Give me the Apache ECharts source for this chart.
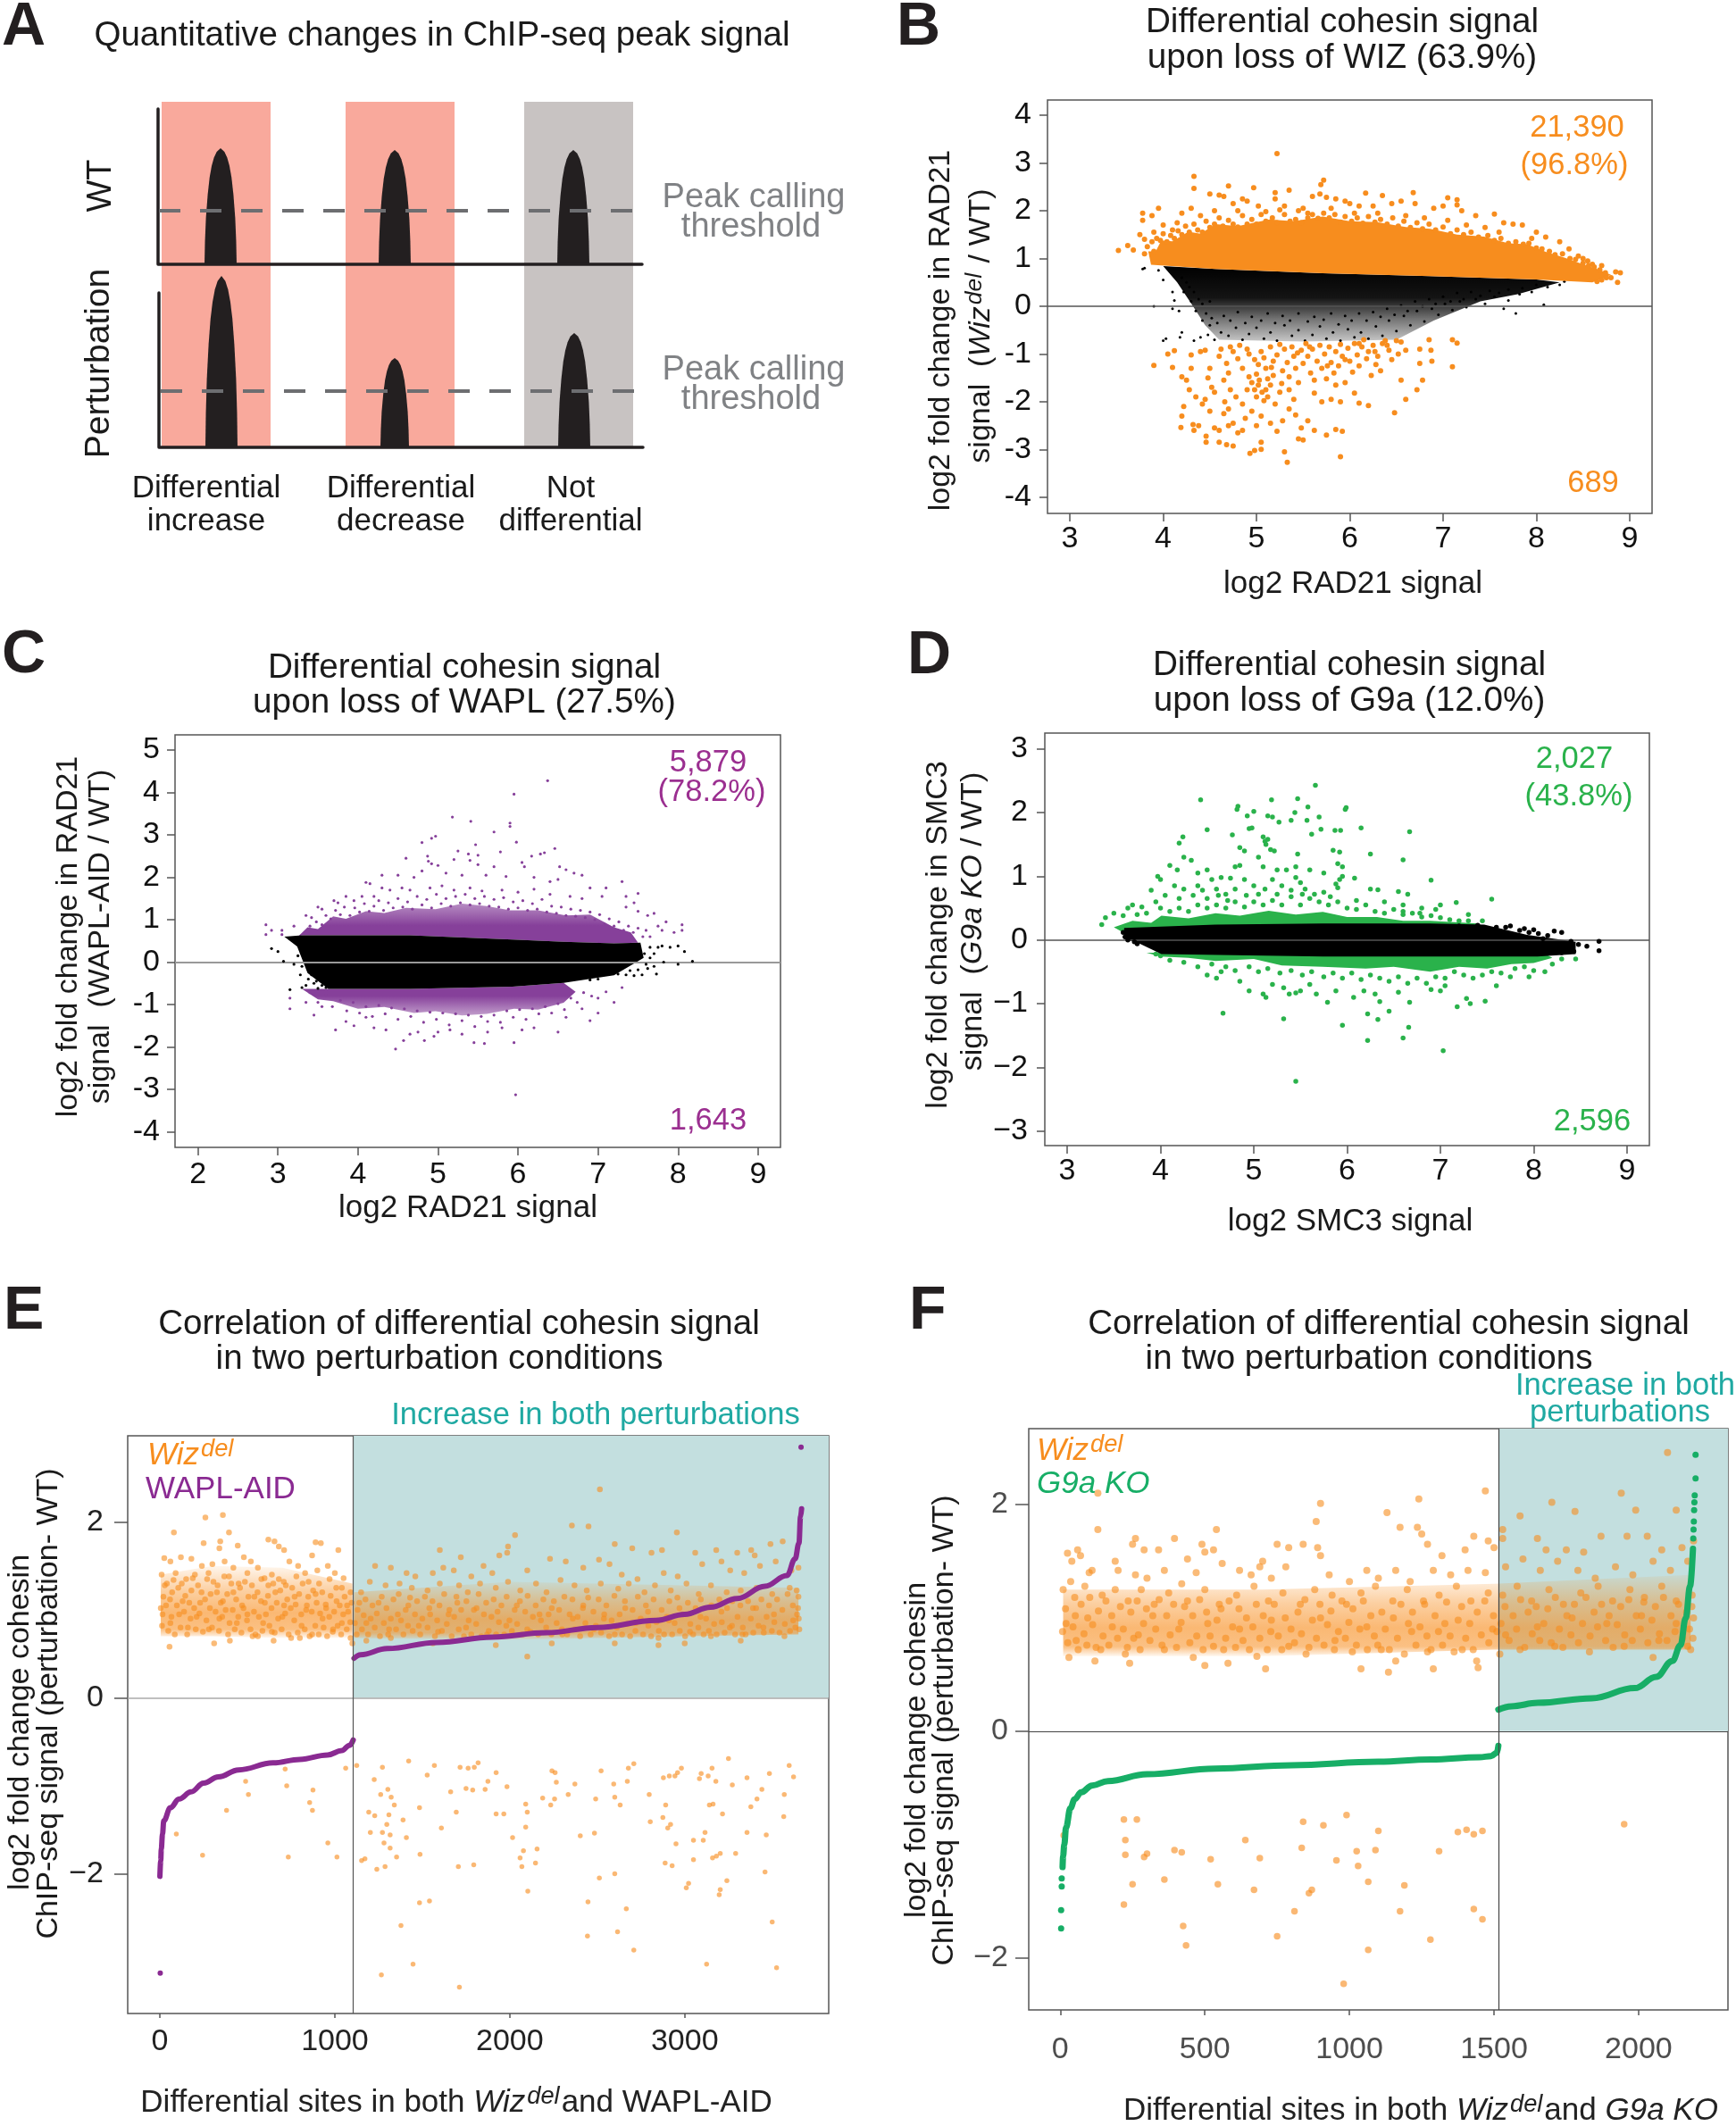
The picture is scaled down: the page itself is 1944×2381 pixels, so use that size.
<!DOCTYPE html>
<html><head><meta charset="utf-8">
<style>html,body{margin:0;padding:0;background:#fff}#c{width:1944px;height:2381px}</style>
<script src="https://cdn.jsdelivr.net/npm/echarts@6/dist/echarts.min.js"></script>
</head><body><div id="c"></div>
<script>
// ---------- Panel A schematic values (schematic units) ----------
const aBands=[[181,303,114,501,'#F9A99C'],[387,509,114,501,'#F9A99C'],[587,709,114,501,'#C8C3C2']];
const aPeaks=[[247,18,296,130],[442,18,296,128],[642,18,296,128],[248,18,501,192],[442,16,501,100],[643,18,501,128]];
const aProfile=[[0,1],[.2,.97],[.4,.91],[.6,.8],[.75,.68],[.85,.55],[.92,.41],[.97,.24],[1,0]];
const aAxes=[[[177,122],[177,296],[719,296]],[[178,328],[178,501],[720,501]]];
const aThresholds=[[[178,236],[711,236]],[[180,438],[713,438]]];
// ---------- Panel B values ----------
const bTicksX=[3,4,5,6,7,8,9], bTicksY=[-4,-3,-2,-1,0,1,2,3,4];
const bOrangeBody=[[3.87,.87],[3.84,1.15],[3.92,1.15],[3.98,1.38],[4.1,1.36],[4.27,1.56],[4.4,1.52],[4.56,1.72],[4.8,1.68],[5.14,1.82],[5.4,1.78],[5.71,1.88],[6.0,1.78],[6.29,1.76],[6.6,1.66],[6.86,1.62],[7.15,1.5],[7.44,1.46],[7.7,1.32],[7.9,1.3],[8.1,1.14],[8.3,1.02],[8.5,.88],[8.65,.78],[8.8,.66],[8.6,.5],[8.0,.56],[6.86,.63],[5.71,.69],[4.56,.78]];
const bBlackBody=[[4.0,.84],[4.56,.78],[5.71,.69],[6.86,.63],[8.0,.56],[8.25,.5],[7.8,.25],[7.4,.1],[6.9,-.3],[6.5,-.7],[5.5,-.74],[4.6,-.7],[4.45,-.4],[4.32,0],[4.15,.5]];
const bOrangeTop=[[5.22,3.2],[4.33,2.72],[4.33,2.47],[5.72,2.64],[5.69,2.55],[4.7,2.52],[4.97,2.48],[5.2,2.38],[5.35,2.43],[5.6,2.3],[5.68,2.35],[5.75,2.28],[6.17,2.37],[6.35,2.32],[6.68,2.38],[7.05,2.27],[7.15,2.23],[7.15,2.12],[4.5,2.35],[4.6,2.33],[4.65,2.3],[4.75,2.15],[4.85,2.25],[4.9,2.2],[5.02,2.1],[5.2,2.25],[5.3,2.1],[5.45,2.0],[5.5,2.05],[5.85,2.25],[5.95,2.2],[6.0,2.15],[6.1,2.1],[6.25,2.1],[6.45,2.15],[6.55,2.2],[6.7,2.15],[6.9,2.05],[7.0,2.1],[7.2,2.0],[7.35,1.9],[7.55,1.93],[7.65,1.75],[7.75,1.72],[7.85,1.7],[8.0,1.55],[8.1,1.45],[8.25,1.35],[8.45,1.05],[8.55,.95],[8.7,.85],[8.85,.72],[8.9,.7],[8.87,.5],[8.75,.6],[3.52,1.17],[3.62,1.27],[3.68,1.18],[3.75,1.5],[3.78,1.8],[3.78,1.95],[3.8,1.4],[3.88,1.9],[3.95,2.05],[4.0,1.7],[4.2,1.95],[4.3,2.05],[4.4,1.9],[4.1,1.6],[3.9,1.55],[4.15,1.75],[4.55,2.0],[4.8,2.0],[5.1,1.98],[5.25,2.02],[5.55,1.95],[5.8,2.05],[6.05,1.95],[6.3,1.95],[6.6,1.9],[6.8,1.85],[7.05,1.8],[7.25,1.7],[7.45,1.65],[7.6,1.55],[7.95,1.42],[8.35,1.2],[8.5,1.0],[8.6,.88],
[3.8,1.1],[3.83,1.25],[3.88,1.35],[3.9,1.15],[3.93,1.42],[3.97,1.38],[4.0,1.52],[4.04,1.35],[4.08,1.48],[4.12,1.42],[4.16,1.58],[4.2,1.5],[4.24,1.68],[4.28,1.55],[4.33,1.72],[4.37,1.6],[4.42,1.55],[4.46,1.78],[4.5,1.65],[4.55,1.72],[4.6,1.85],[4.64,1.68],[4.7,1.8],[4.75,1.72],[4.8,1.66],[4.85,1.9],[4.9,1.72],[4.95,1.82],[5.0,1.72],[5.05,1.92],[5.1,1.78],[5.17,1.85],[5.22,1.75],[5.3,1.92],[5.36,1.78],[5.42,1.82],[5.48,1.75],[5.55,1.85],[5.6,1.92],[5.66,1.84],[5.72,1.95],[5.78,1.85],[5.84,1.92],[5.9,1.76],[5.95,1.88],[6.02,1.78],[6.08,1.85],[6.14,1.74],[6.2,1.88],[6.27,1.76],[6.33,1.82],[6.4,1.72],[6.46,1.85],[6.52,1.68],[6.58,1.78],[6.65,1.65],[6.72,1.75],[6.78,1.62],[6.85,1.72],[6.92,1.6],[7.0,1.66],[7.08,1.52],[7.15,1.6],[7.22,1.5],[7.3,1.55],[7.38,1.45],[7.48,1.48],[7.55,1.38],[7.62,1.42],[7.7,1.32],[7.78,1.35],[7.86,1.3],[7.92,1.32],[8.0,1.22],[8.06,1.2],[8.14,1.15],[8.2,1.08],[8.28,1.1],[8.36,1.0],[8.42,.98],[8.5,.9],[8.56,.85],[8.62,.82],[8.68,.76],[8.74,.7],[8.8,.6],[8.7,.55],[8.65,.52]];
const bOrangeDown=[[3.9,-1.24],[4.05,-1.0],[4.12,-.93],[4.1,-1.28],[4.2,-1.48],[4.25,-1.55],[4.28,-1.75],[4.22,-2.1],[4.2,-2.3],[4.19,-2.54],[4.32,-2.48],[4.38,-2.5],[4.33,-2.6],[4.46,-2.72],[4.46,-2.85],[4.55,-2.55],[4.6,-2.85],[4.68,-2.9],[4.75,-2.93],[4.8,-2.65],[4.93,-3.08],[4.98,-3.02],[5.05,-3.0],[5.05,-2.85],[5.0,-2.5],[4.88,-2.35],[4.75,-2.45],[4.7,-2.5],[4.65,-2.25],[4.5,-2.2],[4.42,-2.05],[4.35,-1.9],[4.3,-1.3],[4.3,-1.02],[4.4,-.95],[4.45,-.92],[4.5,-1.3],[4.48,-1.5],[4.52,-1.7],[4.55,-1.8],[4.45,-1.95],[4.6,-1.05],[4.62,-.9],[4.68,-1.2],[4.7,-1.4],[4.65,-1.55],[4.72,-1.75],[4.78,-1.9],[4.66,-2.0],[4.85,-2.05],[4.9,-1.75],[4.95,-1.6],[5.0,-1.42],[5.03,-1.55],[5.02,-1.65],[5.06,-1.8],[5.0,-1.9],[5.1,-1.75],[5.12,-1.9],[5.15,-1.65],[5.18,-1.45],[5.1,-1.3],[4.85,-1.3],[4.8,-1.1],[4.75,-.95],[4.82,-.82],[4.9,-.9],[4.98,-1.12],[5.05,-.95],[5.15,-.85],[5.18,-1.15],[5.22,-1.02],[5.28,-1.35],[5.3,-.9],[5.33,-1.18],[5.38,-.85],[5.4,-1.05],[5.42,-1.3],[5.45,-1.6],[5.48,-.92],[5.5,-1.2],[5.53,-.78],[5.55,-1.05],[5.58,-1.4],[5.6,-.9],[5.62,-1.55],[5.65,-1.15],[5.68,-.82],[5.7,-1.3],[5.73,-1.0],[5.75,-1.52],[5.78,-.85],[5.8,-1.18],[5.83,-1.4],[5.85,-.95],[5.88,-1.25],[5.9,-.8],[5.92,-1.05],[5.95,-1.6],[5.98,-.88],[6.0,-1.15],[6.03,-1.38],[6.05,-.78],[6.08,-1.02],[6.1,-1.25],[6.13,-.85],[6.15,-.7],[6.18,-1.1],[6.2,-.95],[6.23,-1.45],[6.25,-.82],[6.28,-1.22],[6.3,-1.05],[6.33,-1.35],[6.35,-.78],[6.38,-.72],[6.42,-.92],[6.45,-1.12],[6.5,-.72],[6.52,-1.0],[6.55,-.75],[6.55,-1.55],[6.6,-.92],[6.6,-1.95],[6.72,-1.75],[6.75,-.9],[6.75,-1.2],[6.78,-1.55],[6.85,-.7],[6.87,-.92],[6.88,-1.15],[7.1,-.7],[7.15,-.77],[7.1,-1.27],[6.48,-2.23],[6.2,-2.08],[6.05,-1.82],[6.1,-2.03],[5.9,-2.0],[5.85,-1.65],[5.8,-1.95],[5.7,-2.0],[5.62,-1.82],[5.55,-2.4],[5.48,-2.55],[5.42,-2.28],[5.35,-2.15],[5.28,-2.4],[5.22,-2.62],[5.15,-2.45],[5.33,-3.27],[5.3,-3.05],[5.9,-3.15],[5.92,-2.62],[5.85,-2.58],[5.75,-2.7],[5.62,-2.6],[5.5,-2.8],[5.45,-2.78],[5.2,-2.05],[5.25,-1.8],[5.35,-1.75],[5.4,-1.95],[5.05,-2.3],[4.95,-2.2],[4.85,-2.6],[4.6,-2.6],[4.7,-2.15],
[4.72,-.85],[4.92,-1.0],[5.02,-1.22],[5.08,-1.08],[5.25,-.8],[5.44,-.98],[5.57,-.85],[5.76,-1.25],[5.95,-1.12],[6.1,-.78],[6.27,-.95],[6.4,-.82],[5.12,-1.52],[5.27,-1.62],[4.98,-1.75],[5.08,-1.98],[4.92,-1.48],[5.16,-1.28],[5.35,-1.48]];
const bBlackSparse=[[3.8,.8],[3.78,.78],[3.95,.75],[4.0,.55],[4.1,.3],[4.12,.12],[4.1,-.05],[4.17,-.1],[3.9,0],[4.03,-.68],[4.0,-.72],[4.18,-.65],[4.2,-.55],[4.33,-.72],[4.4,-.65],[4.48,-.6],[4.5,-.4],[4.42,-.3],[4.35,-.1],[4.3,.1],[4.55,-.7],[4.62,-.55],[4.7,-.62],[4.78,-.45],[4.85,-.7],[4.92,-.58],[5.0,-.45],[5.08,-.68],[5.15,-.55],[5.22,-.72],[5.3,-.4],[5.38,-.62],[5.45,-.5],[5.52,-.72],[5.6,-.6],[5.68,-.42],[5.75,-.68],[5.82,-.55],[5.9,-.72],[5.98,-.48],[6.05,-.65],[6.12,-.55],[6.2,-.68],[6.28,-.42],[6.35,-.62],[6.42,-.3],[6.5,-.52],[6.58,-.2],[6.65,-.4],[6.72,-.1],[6.8,-.32],[6.88,-.05],[6.95,-.18],[7.02,.05],[7.1,-.08],[7.18,.1],[7.25,-.02],[7.35,.15],[7.45,.05],[7.55,.2],[7.65,-.05],[7.7,.12],[7.78,-.15],[7.82,.25],[7.95,.3],[8.08,.03],[8.12,.4],[8.25,.45],[8.3,.52],
[4.25,.5],[4.22,.3],[4.28,.4],[4.2,.6],[4.33,.3],[4.38,.15],[4.42,.05],[4.46,-.15],[4.5,.1],[4.52,-.25],[4.58,-.35],[4.65,-.2],[4.72,-.3],[4.8,-.12],[4.88,-.35],[4.95,-.22],[5.05,-.3],[5.12,-.15],[5.2,-.35],[5.28,-.2],[5.36,-.3],[5.45,-.15],[5.55,-.32],[5.62,-.22],[5.72,-.28],[5.8,-.15],[5.88,-.38],[5.95,-.2],[6.02,-.3],[6.1,-.15],[6.18,-.3],[6.25,-.12],[6.33,-.22],[6.4,-.05],[6.48,-.18],[6.55,.02],[6.62,-.1],[6.7,.1],[6.78,0],[6.85,.15],[6.92,.05],[7.0,.2],[7.08,.1],[7.15,.28],[7.22,.15],[7.3,.3],[7.4,.22],[7.5,.32],[7.6,.28],[7.7,.35],[7.85,.38],[8.0,.45]];
// ---------- Panel C values ----------
const cTicksX=[2,3,4,5,6,7,8,9], cTicksY=[-4,-3,-2,-1,0,1,2,3,4,5];
const cPurpleUp=[[3.25,.6],[3.37,.82],[3.5,.78],[3.69,1.08],[3.85,1.02],[4.1,1.2],[4.33,1.16],[4.6,1.28],[4.97,1.25],[5.3,1.38],[5.61,1.32],[5.9,1.22],[6.25,1.22],[6.6,1.1],[6.9,1.12],[7.2,.82],[7.41,.7],[7.5,.46],[7.2,.44],[6.57,.48],[5.93,.53],[4.65,.63],[3.3,.63]];
const cPurpleDown=[[3.3,-.63],[3.5,-.88],[3.69,-.92],[4.0,-1.1],[4.33,-1.06],[4.7,-1.2],[4.97,-1.16],[5.3,-1.26],[5.61,-1.22],[5.95,-1.1],[6.25,-1.12],[6.57,-.96],[6.72,-.7],[6.57,-.49],[5.93,-.58],[4.65,-.63]];
const cBlackBody=[[3.08,.6],[3.3,.63],[4.65,.63],[5.93,.53],[6.57,.48],[7.2,.44],[7.53,.46],[7.57,.1],[7.2,-.31],[6.57,-.49],[5.93,-.58],[4.65,-.63],[3.63,-.63],[3.37,-.26],[3.24,.37]];
const cPurple=[[6.37,4.28],[5.95,3.96],[5.18,3.42],[5.41,3.32],[5.9,3.28],[5.9,3.2],[5.7,3.07],[5.98,2.83],[4.8,2.82],[4.97,2.97],[4.92,2.92],[5.47,2.77],[6.46,2.68],[5.78,2.6],[6.33,2.58],[6.28,2.55],[6.17,2.5],[5.25,2.62],[5.38,2.55],[5.5,2.52],[4.6,2.45],[4.87,2.5],[4.88,2.38],[4.92,2.32],[5.0,2.28],[5.2,2.42],[5.4,2.4],[5.5,2.3],[5.7,2.25],[6.05,2.35],[6.08,2.25],[6.52,2.25],[6.6,2.18],[6.7,2.1],[6.8,2.05],[4.3,2.05],[4.15,1.85],[4.1,1.88],[4.05,1.55],[4.5,2.05],[4.7,2.0],[4.8,2.15],[5.1,2.1],[5.3,2.05],[5.6,2.05],[5.85,2.02],[6.2,2.0],[6.4,1.9],[6.5,1.95],[6.9,1.75],[7.1,1.75],[7.3,1.9],[7.05,1.55],[7.35,1.55],[7.5,1.62],[7.45,1.4],[7.35,1.3],[7.5,1.2],[7.62,1.1],[7.7,1.15],[7.85,.95],[8.05,.88],[8.05,.75],[7.95,.7],[7.8,.75],[7.75,.85],[7.65,.6],[2.85,.88],[2.85,.65],[2.92,.75],[3.05,.75],[3.05,.65],[3.2,.85],[3.35,1.1],[3.42,1.05],[3.5,1.3],[3.55,1.25],[3.7,1.45],[3.75,1.4],[3.85,1.55],[3.95,1.45],[4.2,1.55],[4.3,1.75],[4.4,1.7],[4.55,1.75],[4.65,1.7],[4.9,1.75],[5.05,1.8],[5.2,1.7],[5.4,1.75],[5.55,1.68],[5.8,1.7],[6.0,1.65],[6.2,1.72],[6.4,1.6],[6.65,1.55],[6.8,1.5],[3.15,-.85],[3.15,-1.1],[3.35,-.95],[3.45,-1.25],[3.55,-1.05],[3.72,-1.6],[3.85,-1.4],[3.95,-1.5],[4.1,-1.3],[4.2,-1.55],[4.35,-1.6],[4.47,-2.05],[4.57,-1.85],[4.65,-1.7],[4.75,-1.65],[4.83,-1.85],[4.95,-1.75],[5.0,-1.65],[5.15,-1.6],[5.3,-1.7],[5.45,-1.9],[5.58,-1.92],[5.62,-1.65],[5.8,-1.55],[5.95,-1.9],[6.05,-1.6],[6.2,-1.55],[6.5,-1.65],[6.9,-1.38],[7.0,-1.2],[7.2,-.95],[6.8,-1.1],[6.6,-1.3],[5.97,-3.13],[7.0,-.85],[7.1,-.7],[7.3,-.6],
[3.4,.85],[3.48,.95],[3.55,.88],[3.6,1.1],[3.66,1.02],[3.72,1.22],[3.78,1.12],[3.83,1.3],[3.9,1.1],[3.96,1.28],[4.02,1.18],[4.08,1.38],[4.14,1.2],[4.2,1.32],[4.26,1.45],[4.32,1.22],[4.38,1.4],[4.44,1.28],[4.5,1.5],[4.56,1.3],[4.62,1.42],[4.68,1.25],[4.74,1.55],[4.8,1.35],[4.86,1.48],[4.92,1.28],[4.98,1.6],[5.04,1.38],[5.1,1.5],[5.16,1.32],[5.22,1.55],[5.28,1.4],[5.34,1.6],[5.4,1.35],[5.46,1.5],[5.52,1.38],[5.58,1.55],[5.64,1.32],[5.7,1.48],[5.76,1.3],[5.82,1.52],[5.88,1.25],[5.94,1.42],[6.0,1.28],[6.06,1.45],[6.12,1.22],[6.18,1.38],[6.24,1.25],[6.3,1.48],[6.36,1.18],[6.42,1.32],[6.48,1.15],[6.54,1.3],[6.6,1.1],[6.66,1.25],[6.72,1.08],[6.78,1.22],[6.84,1.05],[6.9,1.18],[6.96,1.0],[7.02,1.12],[7.08,.9],[7.14,1.02],[7.2,.85],[7.26,.95],[7.32,.75],[7.38,.85],[7.44,.7],[7.5,.8],[7.56,.6],[7.6,.75],
[3.4,-.72],[3.5,-.95],[3.6,-.78],[3.68,-1.05],[3.78,-.9],[3.86,-1.15],[3.94,-.95],[4.02,-1.2],[4.1,-1.05],[4.18,-1.28],[4.26,-1.02],[4.34,-1.22],[4.42,-1.08],[4.5,-1.35],[4.58,-1.1],[4.66,-1.28],[4.74,-1.15],[4.82,-1.42],[4.9,-1.18],[4.98,-1.35],[5.06,-1.2],[5.14,-1.48],[5.22,-1.22],[5.3,-1.38],[5.38,-1.25],[5.46,-1.52],[5.54,-1.28],[5.62,-1.4],[5.7,-1.25],[5.78,-1.42],[5.86,-1.15],[5.94,-1.3],[6.02,-1.12],[6.1,-1.35],[6.18,-1.1],[6.26,-1.22],[6.34,-1.05],[6.42,-1.2],[6.5,-.98],[6.58,-1.12],[6.66,-.85],[6.74,-.95],[6.82,-.72],[6.92,-.8]];
const cBlack=[[2.92,.32],[3.07,.02],[3.0,.25],[3.15,-.65],[3.3,-.6],[3.2,-.05],[3.28,-.3],[3.35,-.55],[3.45,-.5],[3.5,-.62],[7.65,.35],[7.7,.2],[7.75,.35],[7.8,.38],[7.9,.35],[8.0,.38],[7.7,-.1],[7.73,-.28],[7.82,0],[8.0,-.05],[8.18,.02],[8.08,.25],[7.55,-.3],[7.45,-.32],[7.6,-.05],[7.65,.1],[7.35,-.3],[7.25,-.28],[7.0,-.4],[6.9,-.42],[3.2,.5],[3.15,.55],[3.25,.15],[3.3,-.1],[3.32,.2],[3.38,-.4],[3.42,-.3],[3.48,-.45],[3.55,-.55],[3.6,-.6],[7.58,.2],[7.62,-.15],[7.4,-.2],[7.5,-.18]];
// ---------- Panel D values ----------
const dTicksX=[3,4,5,6,7,8,9], dTicksY=[-3,-2,-1,0,1,2,3];
const dGreenUp=[[3.5,.2],[3.7,.3],[3.9,.27],[4.01,.38],[4.3,.34],[4.59,.42],[4.85,.38],[5.16,.46],[5.45,.4],[5.74,.44],[6.0,.36],[6.32,.36],[6.6,.3],[6.89,.3],[7.4,.26],[7.47,.2],[6.89,.2],[5.74,.2],[4.59,.18],[3.6,.12]];
const dGreenDown=[[3.85,-.2],[4.0,-.26],[4.3,-.28],[4.59,-.33],[5.0,-.3],[5.3,-.4],[5.74,-.42],[6.2,-.45],[6.5,-.42],[6.89,-.5],[7.2,-.42],[7.5,-.45],[7.76,-.38],[8.0,-.36],[8.2,-.28],[8.1,-.2],[6.89,-.2],[5.74,-.2],[4.59,-.2]];
const dBlackBody=[[3.61,.19],[4.59,.24],[5.74,.26],[6.89,.26],[7.47,.24],[7.93,.08],[8.45,-.03],[8.45,-.22],[8.04,-.26],[5.74,-.26],[4.01,-.22],[3.78,-.06],[3.61,.02]];
const dGreen=[[5.66,2.43],[4.43,2.2],[5.47,2.22],[5.19,2.2],[4.83,2.1],[4.82,2.05],[5.58,2.09],[5.99,2.08],[5.0,2.02],[5.44,2.0],[5.98,2.05],[4.93,1.95],[5.15,1.95],[5.2,1.93],[5.7,1.93],[5.4,1.88],[5.57,1.88],[5.27,1.85],[4.95,1.75],[4.98,1.76],[4.5,1.73],[5.72,1.74],[5.87,1.72],[5.93,1.72],[6.15,1.76],[6.67,1.7],[5.62,1.66],[4.77,1.65],[5.1,1.62],[5.12,1.55],[5.15,1.58],[5.13,1.5],[4.24,1.62],[4.2,1.52],[5.18,1.42],[5.22,1.4],[4.85,1.45],[4.9,1.4],[5.85,1.41],[5.92,1.38],[5.47,1.35],[6.25,1.35],[5.05,1.3],[4.25,1.3],[4.33,1.25],[6.6,1.26],[4.8,1.15],[4.85,1.17],[4.1,1.17],[4.18,1.1],[5.9,1.2],[5.95,1.15],[5.35,1.1],[5.25,1.1],[5.1,1.15],[5.45,1.15],[5.6,1.1],[5.75,1.05],[5.95,1.0],[6.08,.97],[5.92,.95],[3.97,1.0],[4.0,.95],[4.4,1.05],[4.5,1.1],[4.55,.95],[4.65,.98],[4.75,.97],[4.9,.95],[5.2,.95],[5.45,.98],[5.5,.9],[6.9,.94],[5.0,.85],[5.3,.85],[5.88,.88],[5.9,.82],[6.25,.8],[6.33,.79],[6.55,.76],[6.65,.72],[3.9,.78],[4.25,.8],[4.4,.85],[4.6,.8],[4.8,.8],[5.55,.8],[5.75,.75],[7.55,.64],[7.17,.59],[7.0,.55],[6.8,.5],[6.78,.42],[6.6,.45],[7.3,.4],[7.45,.3],[3.37,.24],[3.41,.35],[3.5,.42],[3.65,.5],[3.7,.55],[3.8,.52],[3.95,.6],[4.05,.7],[4.2,.65],[4.5,.65],[4.7,.72],[6.1,.62],[6.4,.6],[6.6,.55],[6.95,.48],[5.45,-2.22],[7.03,-1.74],[6.22,-1.58],[6.6,-1.54],[6.66,-1.37],[5.95,-1.34],[5.32,-1.24],[6.33,-1.25],[6.45,-1.12],[6.22,-1.16],[4.67,-1.15],[7.18,-1.05],[7.32,-1.0],[7.48,-.96],[7.28,-.92],[6.35,-.97],[6.67,-.98],[5.79,-.98],[6.07,-.9],[5.38,-.85],[5.45,-.83],[5.1,-.85],[5.13,-.9],[4.95,-.8],[5.32,-.75],[5.5,-.8],[5.67,-.85],[5.88,-.8],[6.18,-.8],[6.3,-.85],[6.55,-.82],[6.9,-.78],[7.0,-.8],[7.05,-.72],[4.6,-.6],[4.5,-.55],[4.65,-.5],[4.85,-.65],[5.2,-.7],[5.6,-.7],[7.6,-.72],[7.75,-.58],[7.95,-.58],[8.12,-.5],[8.3,-.3],[8.45,-.3],[4.0,-.25],[3.95,-.22],
[3.6,.38],[3.75,.4],[3.85,.42],[4.0,.5],[4.1,.45],[4.2,.5],[4.3,.45],[4.4,.55],[4.5,.5],[4.6,.55],[4.7,.5],[4.8,.6],[4.9,.52],[5.0,.6],[5.1,.55],[5.2,.62],[5.3,.55],[5.4,.68],[5.5,.55],[5.6,.65],[5.7,.6],[5.8,.55],[5.9,.6],[6.0,.5],[6.1,.48],[6.2,.55],[6.3,.45],[6.4,.42],[6.5,.48],[6.6,.4],[6.7,.42],[6.8,.36],[6.9,.38],[7.0,.35],[7.1,.32],[7.2,.3],[7.3,.3],[4.15,.85],[4.35,.7],[4.45,.78],[4.62,.7],[4.72,.62],[4.92,.7],[5.05,.72],[5.12,.8],[5.25,.72],[5.4,.78],[5.52,.72],[5.65,.72],[5.82,.68],
[4.1,-.32],[4.25,-.35],[4.4,-.42],[4.55,-.38],[4.7,-.42],[4.8,-.48],[4.95,-.42],[5.05,-.5],[5.15,-.45],[5.28,-.52],[5.4,-.48],[5.52,-.55],[5.62,-.5],[5.75,-.58],[5.85,-.52],[5.95,-.6],[6.05,-.52],[6.15,-.62],[6.25,-.55],[6.35,-.6],[6.45,-.65],[6.55,-.58],[6.65,-.68],[6.75,-.6],[6.85,-.68],[6.95,-.58],[7.05,-.6],[7.15,-.5],[7.25,-.55],[7.35,-.6],[7.45,-.55],[7.55,-.5],[7.65,-.52],[7.8,-.45],[7.9,-.42],[8.0,-.48],[8.2,-.38]];
const dBlack=[[8.7,-.02],[8.7,-.17],[8.57,-.1],[8.48,-.07],[8.4,-.02],[8.43,-.18],[8.3,.12],[8.22,.14],[8.15,.07],[8.1,.02],[8.3,-.2],[8.2,-.12],[8.1,-.18],[7.95,.12],[7.85,.15],[7.7,.2],[7.6,.2],[7.4,.23],[7.2,.22],[3.6,.12],[3.62,.05],[3.65,0],[3.72,-.03],[3.75,-.06],[7.75,.22],[7.9,.18],[8.0,.16],[8.05,.1]];
// ---------- Panel E values ----------
const eTicksX=[0,1000,2000,3000], eTicksY=[-2,0,2];
const eDivider=1105;
const eBandLeft=[[5,.7],[5,1.4],[300,1.5],[700,1.48],[1100,1.3],[1100,.68],[700,.68],[300,.7]];
const eBandRight=[[1110,.68],[1110,1.2],[2000,1.32],[3000,1.28],[3650,1.25],[3650,.72],[3000,.7],[2000,.66]];
const eWiz=[[260,2.05],[360,2.08],[80,1.88],[250,1.76],[345,1.78],[395,1.88],[445,1.73],[340,1.7],[480,1.6],[620,1.8],[655,1.78],[680,1.72],[710,1.68],[890,1.77],[920,1.76],[1020,1.68],[870,1.62],[25,1.59],[60,1.55],[120,1.6],[180,1.58],[240,1.5],[300,1.52],[370,1.55],[420,1.48],[520,1.55],[560,1.48],[640,1.4],[740,1.55],[790,1.5],[830,1.42],[900,1.45],[960,1.5],[1000,1.42],[1050,1.36],[10,1.4],[40,1.3],[90,1.42],[150,1.35],[200,1.4],[270,1.35],[330,1.28],[395,1.38],[450,1.3],[500,1.42],[580,1.35],[620,1.28],[680,1.35],[720,1.28],[780,1.38],[850,1.32],[910,1.3],[970,1.35],[1040,1.25],[1090,1.2],[20,1.15],[70,1.2],[130,1.1],[180,1.22],[230,1.08],[290,1.18],[360,1.1],[420,1.2],[470,1.05],[540,1.15],[600,1.08],[660,1.2],[710,1.05],[770,1.15],[840,1.05],[890,1.18],[950,1.02],[1010,1.1],[1070,1.05],[15,.95],[60,.85],[110,.95],[160,.8],[210,.92],[280,.78],[340,.9],[390,.72],[440,.85],[500,.95],[530,.7],[590,.85],[640,.75],[700,.92],[750,.68],[810,.82],[870,.72],[930,.9],[990,.78],[1040,.85],[1090,.68],[55,.58],[310,.62],[400,.65],[560,.7],[650,.65],[800,.68],[1100,.62],
[5,1.02],[12,.82],[28,1.28],[35,1.05],[48,.76],[58,1.12],[66,.92],[78,1.34],[85,.72],[97,1.05],[105,1.25],[118,.8],[125,1.3],[138,.98],[145,1.16],[156,.72],[168,1.08],[175,.9],[188,1.36],[196,1.02],[205,.78],[218,1.28],[226,.96],[238,1.2],[246,.75],[258,1.12],[266,.88],[278,1.42],[286,1.02],[298,.8],[306,1.32],[318,.98],[326,1.2],[338,.76],[348,1.08],[356,.92],[368,1.38],[376,1.0],[385,1.18],[398,.85],[408,1.3],[416,1.0],[428,.78],[436,1.12],[448,.92],[458,1.25],[466,.74],[478,1.02],[486,1.32],[498,.88],[506,1.15],[518,.78],[526,1.28],[538,.98],[546,.72],[558,1.2],[566,.92],[578,1.1],[586,.76],[598,1.36],[606,.95],[618,1.16],[626,.82],[638,1.02],[648,1.3],[656,.74],[668,1.08],[676,.9],[688,1.22],[696,.78],[708,1.32],[716,.96],[728,1.12],[736,.72],[748,1.02],[756,1.25],[768,.88],[776,1.06],[788,.74],[796,1.18],[808,.95],[816,1.3],[828,.78],[836,1.0],[848,1.15],[856,.7],[868,.98],[876,1.22],[888,.82],[896,1.08],[908,.72],[916,.96],[928,1.2],[936,.8],[948,1.06],[956,.7],[968,.92],[976,1.16],[988,.75],[996,.98],[1008,1.25],[1016,.82],[1028,1.05],[1036,.72],[1048,.95],[1056,1.15],[1068,.78],[1076,.98],[1088,.86],[1096,1.08],
[2515,2.37],[2355,1.96],[2450,1.95],[2030,1.85],[2955,1.88],[1990,1.72],[1985,1.65],[1600,1.68],[1720,1.6],[1940,1.62],[2600,1.75],[2700,1.7],[2810,1.65],[2870,1.68],[3060,1.65],[3180,1.68],[3300,1.65],[3380,1.68],[3490,1.75],[3560,1.78],[3400,1.62],[1230,1.5],[1320,1.48],[1410,1.42],[1460,1.38],[1560,1.42],[1620,1.48],[1680,1.45],[1780,1.38],[1850,1.5],[1900,1.42],[2100,1.45],[2230,1.58],[2320,1.55],[2420,1.48],[2510,1.57],[2570,1.52],[2640,1.4],[2730,1.35],[2880,1.42],[2960,1.38],[3100,1.52],[3210,1.55],[3260,1.45],[3340,1.42],[3430,1.5],[3520,1.55],[3610,1.45],[1150,1.2],[1200,1.32],[1290,1.28],[1370,1.3],[1440,1.25],[1530,1.22],[1600,1.3],[1710,1.28],[1760,1.2],[1830,1.3],[1920,1.25],[1990,1.32],[2060,1.22],[2150,1.3],[2210,1.2],[2290,1.34],[2370,1.28],[2440,1.22],[2520,1.3],[2620,1.24],[2680,1.3],[2770,1.2],[2830,1.28],[2920,1.22],[3010,1.3],[3080,1.18],[3150,1.28],[3240,1.2],[3320,1.22],[3410,1.25],[3500,1.18],[3600,1.25],[1130,1.0],[1180,.85],[1250,1.08],[1310,.78],[1360,.95],[1420,1.05],[1480,.82],[1540,1.02],[1590,.75],[1650,.95],[1700,1.08],[1750,.8],[1810,1.02],[1870,.72],[1930,.98],[1980,.82],[2040,1.05],[2100,.78],[2170,.95],[2240,1.02],[2300,.72],[2360,.9],[2420,1.05],[2480,.78],[2540,.95],[2600,.72],[2660,1.02],[2720,.85],[2790,.98],[2850,.68],[2910,.88],[2970,1.02],[3030,.75],[3090,.92],[3150,.7],[3210,.98],[3270,.82],[3330,.72],[3390,1.02],[3450,.8],[3510,.95],[3570,.7],[3620,.88],[2100,.47],[1920,.6],[1560,.62],[2850,.6],[3000,.62],[3320,.65],[1180,.65],[1320,.68],[2240,.62],[2600,.62],
[1115,.85],[1125,.72],[1140,1.08],[1155,.78],[1165,.94],[1175,1.12],[1190,.72],[1205,.9],[1215,1.05],[1228,.8],[1240,.96],[1258,.7],[1268,1.15],[1280,.85],[1295,1.02],[1305,.72],[1320,.9],[1335,1.12],[1350,.78],[1365,1.18],[1378,.88],[1392,.72],[1405,1.0],[1418,.82],[1430,1.14],[1445,.76],[1458,.95],[1470,1.1],[1488,.72],[1500,.9],[1515,1.15],[1530,.8],[1545,.95],[1558,1.1],[1572,.7],[1585,.88],[1598,1.05],[1612,.76],[1625,1.18],[1640,.84],[1655,1.0],[1668,.7],[1682,.92],[1695,1.15],[1708,.78],[1722,1.0],[1738,.7],[1752,1.1],[1765,.88],[1780,.72],[1795,1.0],[1808,.84],[1822,1.18],[1838,.7],[1852,.95],[1865,1.08],[1880,.76],[1895,.92],[1908,1.12],[1922,.72],[1938,.86],[1952,1.05],[1968,.72],[1982,1.15],[1998,.88],[2012,.76],[2028,1.0],[2042,.84],[2058,1.1],[2072,.72],[2088,.98],[2102,1.16],[2118,.75],[2132,.92],[2148,1.05],[2162,.72],[2178,.88],[2192,1.12],[2208,.8],[2222,.95],[2238,.72],[2252,1.1],[2268,.85],[2282,1.0],[2298,.78],[2312,1.15],[2328,.72],[2342,.95],[2358,1.12],[2372,.78],[2388,.92],[2402,.7],[2418,1.02],[2432,.85],[2448,1.14],[2462,.72],[2478,.98],[2492,.82],[2508,1.12],[2522,.74],[2538,.9],[2552,1.05],[2568,.7],[2582,.88],[2598,1.16],[2612,.8],[2628,.95],[2642,.72],[2658,1.1],[2672,.84],[2688,.7],[2702,1.0],[2718,.76],[2732,1.15],[2748,.9],[2762,.72],[2778,1.05],[2792,.82],[2808,.7],[2822,1.12],[2838,.86],[2852,.76],[2868,1.0],[2882,.72],[2898,.92],[2912,1.1],[2928,.72],[2942,.85],[2958,1.14],[2972,.76],[2988,.95],[3002,.7],[3018,1.08],[3032,.84],[3048,.72],[3062,1.02],[3078,.8],[3092,1.12],[3108,.72],[3122,.9],[3138,.76],[3152,1.05],[3168,.84],[3182,.72],[3198,1.12],[3212,.86],[3228,.74],[3242,1.02],[3258,.8],[3272,1.1],[3288,.72],[3302,.92],[3318,1.05],[3332,.8],[3348,.72],[3362,1.1],[3378,.9],[3392,.74],[3408,1.02],[3422,.82],[3438,1.12],[3452,.74],[3468,.92],[3482,1.05],[3498,.76],[3512,.86],[3528,1.12],[3542,.74],[3558,1.0],[3572,.84],[3588,1.18],[3602,.76],[3618,1.05],[3632,.8],[3642,.95],[3650,1.15],[3655,.78],[3652,.9],[3648,1.02],[3640,1.22],[3650,1.48]];
const eWizLow=[[490,-.95],[506,-1.1],[381,-1.28],[716,-.81],[725,-1],[875,-1.05],[856,-1.19],[872,-1.28],[960,-1.65],[1012,-1.81],[734,-1.81],[244,-1.79],[94,-1.55],[1062,-.8],[1125,-.77],[1272,-.79],[1225,-.93],[1262,-1.1],[1303,-1.04],[1322,-1.13],[1340,-1.22],[1194,-1.3],[1228,-1.34],[1309,-1.33],[1297,-1.44],[1272,-1.53],[1203,-1.53],[1316,-1.56],[1390,-1.39],[1409,-1.59],[1281,-1.65],[1316,-1.71],[1353,-1.81],[1172,-1.83],[1153,-1.85],[1240,-1.95],[1287,-1.92],[1487,-1.78],[1422,-.72],[1528,-.88],[1569,-.77],[1484,-1.25],[1609,-1.48],[1694,-1.3],[1662,-1.07],[1716,-.79],[1762,-.8],[1797,-.79],[1819,-.74],[1750,-1.03],[1788,-1.05],[1859,-1.04],[1875,-.95],[1922,-.85],[1984,-1.01],[1922,-1.32],[1966,-1.32],[2016,-1.59],[2091,-1.21],[2100,-1.3],[2091,-1.47],[2078,-1.74],[2156,-1.72],[2059,-1.82],[2069,-1.92],[2147,-1.88],[1706,-1.92],[1794,-1.9],[2188,-1.14],[2234,-1.22],[2256,-1.15],[2241,-.83],[2259,-.85],[2266,-.96],[2334,-1.1],[2372,-.98],[2403,-1.57],[2484,-1.54],[2491,-1.15],[2522,-.83],[2594,-.98],[2600,-1.13],[2631,-1.22],[2672,-.95],[2678,-.8],[2709,-.75],[2797,-1.1],[2803,-1.41],[2875,-1.36],[2891,-1.22],[2903,-1.48],[2919,-1.44],[2950,-1.66],[2878,-.91],[2912,-.89],[2944,-.89],[2981,-.8],[2959,-.85],[3050,-1.62],[3094,-.86],[3084,-.92],[3134,-.89],[3156,-.8],[3178,-.95],[3116,-1.53],[3106,-1.62],[3050,-1.84],[3141,-1.22],[3162,-1.21],[3216,-1.32],[3159,-1.82],[3181,-1.8],[3203,-1.77],[3291,-1.77],[3250,-.69],[3272,-.99],[3356,-.91],[3356,-1.53],[3378,-1.24],[3413,-1.15],[3441,-1.04],[3466,-1.56],[3459,-1.98],[2888,-1.88],[2928,-1.91],[3022,-2.11],[3009,-2.16],[2512,-2.05],[2600,-2],[3241,-2.08],[3203,-2.18],[3197,-2.24],[2103,-2.2],[2447,-2.32],[2444,-2.71],[2666,-2.4],[2616,-2.66],[2709,-2.87],[1484,-2.33],[1541,-2.31],[1378,-2.59],[1447,-3.03],[1266,-3.15],[1712,-3.29],[3125,-3.03],[3500,-2.55],[3525,-3.07],[3484,-.86],[3597,-.77],[3622,-.9],[3569,-1.1],[3566,-1.35]];
const eWaplLow=[[0,-2.03],[5,-1.85],[8,-1.72],[15,-1.55],[22,-1.4],[60,-1.25],[110,-1.15],[178,-1.07],[250,-.97],[334,-.9],[450,-.82],[647,-.74],[800,-.7],[959,-.65],[1040,-.6],[1084,-.54],[1105,-.48]];
const eWaplHigh=[[1110,.45],[1147,.49],[1300,.56],[1584,.63],[1900,.69],[2209,.74],[2500,.8],[2834,.88],[3000,.95],[3147,1.03],[3300,1.13],[3459,1.27],[3584,1.39],[3631,1.58],[3653,1.76],[3662,2.06],[3668,2.15]];
const eWaplOut=[[2,-3.13],[3665,2.85]];
// ---------- Panel F values ----------
const fTicksX=[0,500,1000,1500,2000], fTicksY=[-2,0,2];
const fDivider=1515;
const fBand=[[10,.66],[10,1.25],[700,1.25],[1500,1.3],[2180,1.38],[2180,.72],[1500,.72],[700,.66]];
const fWiz=[[1470,2.12],[1240,2.05],[900,2.01],[130,2.1],[1130,1.93],[885,1.85],[130,1.78],[1175,1.8],[1235,1.8],[1250,1.74],[1990,1.95],[1700,2.02],[1780,1.94],[1940,2.1],[2100,2.46],[2130,1.95],[1590,1.9],[1530,1.78],[260,1.7],[60,1.6],[70,1.55],[25,1.57],[110,1.42],[40,1.5],[250,1.65],[290,1.6],[395,1.7],[490,1.65],[540,1.78],[530,1.6],[500,1.58],[340,1.6],[440,1.52],[700,1.5],[690,1.45],[750,1.65],[840,1.65],[790,1.62],[890,1.62],[900,1.55],[1270,1.65],[1320,1.55],[1430,1.72],[1480,1.68],[1500,1.62],[1530,1.7],[1400,1.6],[1650,1.7],[1680,1.6],[1750,1.6],[1810,1.58],[1870,1.72],[1960,1.72],[2030,1.72],[2080,1.6],[2150,1.62],[2190,1.68],[100,1.4],[190,1.5],[200,1.42],[260,1.38],[300,1.35],[360,1.42],[420,1.3],[470,1.4],[560,1.48],[620,1.42],[660,1.38],[730,1.35],[780,1.45],[930,1.38],[1000,1.32],[1060,1.42],[1100,1.35],[1160,1.42],[1210,1.32],[1290,1.42],[1350,1.38],[1410,1.42],[1470,1.4],[1540,1.45],[1600,1.52],[1660,1.42],[1720,1.5],[1790,1.42],[1850,1.35],[1920,1.45],[1980,1.38],[2050,1.5],[2110,1.42],[2170,1.5],[10,1.25],[50,1.18],[85,1.28],[145,1.2],[190,1.25],[235,1.15],[280,1.25],[325,1.12],[375,1.22],[440,1.15],[500,1.25],[550,1.12],[610,1.2],[670,1.28],[720,1.15],[770,1.22],[830,1.12],[880,1.25],[940,1.2],[990,1.12],[1040,1.22],[1090,1.28],[1150,1.15],[1200,1.25],[1260,1.12],[1310,1.2],[1370,1.28],[1420,1.15],[1480,1.22],[1530,1.2],[1580,1.28],[1630,1.15],[1690,1.25],[1740,1.12],[1800,1.22],[1860,1.28],[1910,1.15],[1970,1.25],[2020,1.18],[2080,1.28],[2130,1.15],[2185,1.2],[20,.95],[55,.8],[95,1.0],[140,.72],[180,.92],[225,.68],[270,.85],[320,1.02],[360,.72],[410,.9],[460,.65],[510,.95],[565,.72],[620,.9],[680,.66],[730,.98],[790,.75],[850,.68],[900,1.0],[950,.8],[1010,.7],[1060,.92],[1110,.72],[1160,.62],[1215,.88],[1270,.7],[1330,.95],[1390,.72],[1440,.62],[1495,.9],[1540,.85],[1590,.72],[1650,.92],[1710,.75],[1770,1.0],[1830,.7],[1890,.95],[1950,.75],[2010,1.02],[2070,.8],[2130,.95],[2180,.72],[30,.65],[120,.62],[240,.6],[500,.58],[580,.6],[710,.55],[1040,.55],[1135,.52],[1290,.55],[1445,.56],[1520,.68],[2050,.65],[2170,.75],
[8,.88],[18,1.08],[26,.78],[36,1.32],[44,.92],[52,1.02],[62,.72],[72,1.12],[82,.86],[92,.76],[102,1.18],[112,.94],[124,.74],[132,1.06],[148,.84],[158,1.15],[168,.76],[178,1.02],[198,.82],[208,1.1],[218,.9],[232,.74],[244,1.05],[254,.82],[266,1.15],[276,.72],[288,.95],[298,1.08],[310,.8],[330,.9],[342,1.16],[352,.76],[368,1.02],[380,.85],[392,1.12],[402,.74],[418,.96],[430,1.1],[448,.78],[458,1.02],[472,.84],[482,1.16],[494,.72],[506,1.05],[518,.84],[530,.75],[542,.98],[556,1.08],[572,.82],[584,1.15],[596,.92],[606,.74],[618,1.08],[632,.8],[644,1.0],[654,.72],[666,.92],[678,1.12],[690,.82],[702,1.02],[716,.72],[728,.88],[740,1.12],[754,.84],[766,.72],[778,1.0],[798,.9],[810,.78],[822,1.05],[834,.86],[846,1.16],[860,.74],[872,.98],[886,.82],[898,1.12],[912,.76],[924,.94],[936,1.06],[948,.72],[962,.88],[974,1.15],[986,.82],[998,.96],[1012,1.08],[1024,.76],[1036,.9],[1048,1.15],[1062,.72],[1074,1.02],[1086,.84],[1098,.76],[1112,1.05],[1124,.9],[1138,.72],[1152,1.0],[1166,.82],[1178,1.12],[1190,.68],[1204,.95],[1218,1.05],[1230,.76],[1244,.92],[1256,1.15],[1268,.84],[1282,.72],[1296,1.02],[1308,.88],[1322,.76],[1336,1.14],[1348,.84],[1362,.7],[1376,.98],[1388,1.1],[1402,.82],[1416,.95],[1428,.72],[1442,1.05],[1456,.85],[1468,1.15],[1482,.78],[1498,1.02],[1510,.88],[1524,.95],[1538,1.1],[1552,.8],[1566,1.02],[1578,.9],[1592,1.16],[1606,.74],[1618,1.05],[1632,.86],[1646,1.1],[1658,.8],[1672,.95],[1686,1.08],[1698,.78],[1712,1.18],[1726,.9],[1738,.74],[1752,1.02],[1766,.85],[1778,1.12],[1792,.78],[1806,.95],[1818,1.18],[1832,.84],[1846,1.05],[1858,.92],[1872,1.12],[1886,.8],[1898,1.02],[1912,.74],[1926,.94],[1938,1.1],[1952,.85],[1966,1.16],[1978,.8],[1992,1.02],[2006,.9],[2018,1.14],[2032,.78],[2046,.98],[2058,1.1],[2072,.86],[2086,1.18],[2098,.8],[2112,1.02],[2126,.88],[2138,1.12],[2152,.82],[2166,1.05],[2176,.9],[2184,1.1],[2188,.82],[2190,1.0]];
const fWizLow=[[220,-.78],[265,-.78],[225,-.96],[225,-1.09],[290,-1.11],[300,-1.08],[395,-1.05],[420,-1.07],[360,-1.31],[250,-1.35],[220,-1.53],[425,-1.72],[435,-1.89],[520,-1.13],[545,-1.35],[640,-.96],[690,-1.12],[670,-1.4],[750,-1.81],[810,-1.59],[835,-1.03],[840,-.8],[860,-1.43],[870,-1.4],[910,-.83],[955,-1.14],[990,-.74],[1025,-1.06],[1030,-1.19],[1065,-1.33],[1065,-1.93],[980,-2.23],[1090,-1.05],[1100,-.88],[1175,-1.59],[1190,-1.36],[1280,-1.84],[1310,-1.06],[1375,-.89],[1405,-.87],[1430,-.91],[1460,-.88],[1430,-1.57],[1460,-1.66],[1950,-.82],[12,-.92]];
const fG9Low=[[8,-1.2],[10,-1.1],[14,-1.0],[20,-.85],[35,-.68],[50,-.6],[72,-.54],[110,-.48],[165,-.44],[300,-.38],[537,-.33],[800,-.3],[1100,-.27],[1281,-.25],[1450,-.23],[1490,-.22],[1510,-.19],[1515,-.13]];
const fG9High=[[1515,.19],[1560,.22],[1652,.25],[1838,.29],[1987,.38],[2061,.48],[2117,.62],[2145,.76],[2163,1.0],[2178,1.28],[2188,1.61]];
const fG9Out=[[3,-1.74],[3,-1.58],[5,-1.37],[5,-1.3],[2189,1.7],[2190,1.78],[2191,1.85],[2192,1.95],[2193,2.02],[2194,2.08],[2197,2.23],[2197,2.44]];

const C={orange:'#F78D1E',purple:'#9B2F90',curve:'#8A2A92',purpleFill:'#86409A',green:'#2AB24B',curveG:'#17AE66',teal:'#C3DFDF',tealT:'#1FA9A2',ink:'#1a1a1a'};
const FF='"Liberation Sans",Arial,sans-serif';
const grids=[
 {left:0,top:0,width:760,height:530},
 {left:1173,top:112,width:677,height:463},
 {left:196,top:823,width:678,height:462},
 {left:1170,top:821,width:677,height:462},
 {left:143,top:1608,width:785,height:647},
 {left:1152,top:1600,width:783,height:651}
];
const ranges=[
 [0,760,0,530],[2.76,9.24,-4.34,4.32],[1.714,9.28,-4.37,5.36],[2.76,9.24,-3.23,3.25],[-184,3823,-3.59,2.98],[-109,2309,-2.46,2.67]
];
const ticks=[[[],[]],[bTicksX,bTicksY],[cTicksX,cTicksY],[dTicksX,dTicksY],[eTicksX,eTicksY],[fTicksX,fTicksY]];
const minusSign=['','-','-','\u2212','\u2212','\u2212'];
const labelColor=['','#111','#111','#111','#222','#4d4d4d'];
const xMargin=[0,12,14,12,15,28], yMargin=[0,18,17,19,27,23], xLen=[0,9,9,9,5,6], yLen=[0,9,9,9,15,15], lblSize=[0,34,34,34,34,34];
const xAxis=[],yAxis=[];
grids.forEach((g,i)=>{g.show=i>0;g.borderColor='#555';g.borderWidth=1.5;g.containLabel=false;g.backgroundColor='transparent';
 const mk=(idx,tv,len,mar)=>({type:'value',gridIndex:i,min:ranges[i][idx],max:ranges[i][idx+1],show:i>0,splitLine:{show:false},axisLine:{show:false,onZero:false},
  axisTick:{show:true,customValues:tv,length:len,lineStyle:{color:'#555',width:1.5}},
  axisLabel:{show:true,customValues:tv,margin:mar,fontSize:lblSize[i],fontFamily:FF,color:labelColor[i],formatter:v=>v<0?minusSign[i]+Math.abs(v):String(v)}});
 xAxis.push(mk(0,ticks[i][0],xLen[i],xMargin[i]));
 const y=mk(2,ticks[i][1],yLen[i],yMargin[i]); if(i===0)y.inverse=true; yAxis.push(y);
});
const poly=(gi,verts,fill,z,op)=>({type:'custom',xAxisIndex:gi,yAxisIndex:gi,data:verts,encode:{x:0,y:1},clip:true,z,silent:true,
 renderItem:(p,api)=>p.dataIndex?null:{type:'polygon',shape:{points:verts.map(v=>api.coord(v))},style:{fill,opacity:op==null?1:op}}});
const grad=(...stops)=>new echarts.graphic.LinearGradient(0,0,0,1,stops.map(s=>({offset:s[0],color:s[1]})));
const cloud=()=>grad([0,'rgba(247,141,30,.08)'],[.35,'rgba(247,141,30,.42)'],[.65,'rgba(247,141,30,.62)'],[.88,'rgba(247,141,30,.55)'],[1,'rgba(247,141,30,.05)']);
const dots=(gi,data,color,size,z,op)=>({type:'scatter',xAxisIndex:gi,yAxisIndex:gi,data,symbolSize:size,z,silent:true,large:false,itemStyle:{color,opacity:op==null?1:op,borderWidth:0}});
const curve=(gi,data,color,w,z)=>({type:'line',xAxisIndex:gi,yAxisIndex:gi,data,showSymbol:false,z,silent:true,lineStyle:{color,width:w,cap:'round',join:'round'}});
const smooth=(s)=>Object.assign(s,{smooth:.4,smoothMonotone:'x'});
const zero=(gi,color,w,extra)=>({type:'line',xAxisIndex:gi,yAxisIndex:gi,data:[],z:6,silent:true,
 markLine:{silent:true,symbol:'none',animation:false,label:{show:false},lineStyle:{color,width:w,type:'solid'},data:[{yAxis:0}].concat(extra||[])}});
const shade=(gi,x0,x1,y1)=>({type:'line',xAxisIndex:gi,yAxisIndex:gi,data:[],z:0,silent:true,markArea:{silent:true,animation:false,itemStyle:{color:C.teal},data:[[{xAxis:x0,yAxis:0},{xAxis:x1,yAxis:y1}]]}});

const series=[
 {type:'custom',xAxisIndex:0,yAxisIndex:0,data:aBands.map(b=>b.slice(0,4)),encode:{x:[0,1],y:[2,3]},z:1,silent:true,clip:false,
  renderItem:(p,api)=>{const a=api.coord([api.value(0),api.value(2)]),b=api.coord([api.value(1),api.value(3)]);
   return {type:'rect',shape:{x:a[0],y:a[1],width:b[0]-a[0],height:b[1]-a[1]},style:{fill:aBands[p.dataIndex][4]}};}},
 {type:'custom',xAxisIndex:0,yAxisIndex:0,data:aPeaks,encode:{x:0,y:2},z:2,silent:true,clip:false,
  renderItem:(p,api)=>{const c=api.value(0),w=api.value(1),b=api.value(2),h=api.value(3);
   const l=aProfile.map(q=>api.coord([c-q[1]*w,b-q[0]*h])),r=aProfile.slice(0,-1).reverse().map(q=>api.coord([c+q[1]*w,b-q[0]*h]));
   return {type:'polygon',shape:{points:l.concat(r)},style:{fill:'#231F20'}};}},
 ...aAxes.map(d=>curve(0,d,'#231F20',3.5,3)),
 ...aThresholds.map(d=>Object.assign(curve(0,d,'#6D6E71',4,4),{lineStyle:{color:'#6D6E71',width:4,type:[24,22]}})),
 // B
 poly(1,bBlackBody,grad([0,'#000'],[.42,'rgba(0,0,0,.92)'],[.7,'rgba(0,0,0,.55)'],[1,'rgba(0,0,0,.22)']),2),
 poly(1,bOrangeBody,C.orange,4),
 dots(1,bBlackSparse,'#000',3,3),
 dots(1,bOrangeTop,C.orange,6,5),
 dots(1,bOrangeDown,C.orange,6,5),
 zero(1,'#555',1.5),
 // C
 poly(2,cPurpleUp,grad([0,'rgba(134,64,154,.6)'],[.55,'#86409A'],[1,'#86409A']),2),
 poly(2,cPurpleDown,grad([0,'#86409A'],[.4,'#86409A'],[1,'rgba(134,64,154,.5)']),2),
 dots(2,cPurple,C.purpleFill,3.2,3),
 poly(2,cBlackBody,'#000',4),
 dots(2,cBlack,'#000',3.2,5),
 zero(2,'#999',2),
 // D
 poly(3,dGreenUp,C.green,2),
 poly(3,dGreenDown,C.green,2),
 dots(3,dGreen,C.green,5.5,3),
 poly(3,dBlackBody,'#000',4),
 dots(3,dBlack,'#000',5.5,5),
 zero(3,'#555',1.5),
 // E
 shade(4,eDivider,ranges[4][1],ranges[4][3]),
 poly(4,eBandLeft,cloud(),1),
 poly(4,eBandRight,cloud(),1),
 dots(4,eWiz,C.orange,6.5,3,.6),
 dots(4,eWizLow,C.orange,5.5,3,.62),
 smooth(curve(4,eWaplLow,C.curve,6,4)),
 smooth(curve(4,eWaplHigh,C.curve,6,4)),
 dots(4,eWaplOut,C.curve,6,4),
 zero(4,'#aaa',1.5),
 {type:'line',xAxisIndex:4,yAxisIndex:4,data:[],z:3,silent:true,markLine:{silent:true,symbol:'none',animation:false,label:{show:false},lineStyle:{color:'#555',width:1.2,type:'solid'},data:[{xAxis:eDivider}]}},
 // F
 shade(5,fDivider,ranges[5][1],ranges[5][3]),
 poly(5,fBand,cloud(),1),
 dots(5,fWiz,C.orange,8,3,.6),
 dots(5,fWizLow,C.orange,7.5,3,.62),
 smooth(curve(5,fG9Low,C.curveG,7,4)),
 smooth(curve(5,fG9High,C.curveG,7,4)),
 dots(5,fG9Out,C.curveG,7,4),
 zero(5,'#444',1.2,[{xAxis:fDivider}])
];

// ---------- text ----------
const txt=(x,y,text,o)=>{o=o||{};const s=o.size||36;return {type:'text',x,y,rotation:o.rot||0,z:100,silent:true,style:{text,x:0,y:0,align:o.align||'center',verticalAlign:'middle',fontFamily:FF,fontSize:s,fontWeight:o.weight||'normal',fill:o.fill||C.ink,rich:o.rich}};};
const rich=(s,c)=>({n:{fontSize:s,fontFamily:FF,fill:c},i:{fontSize:s,fontFamily:FF,fontStyle:'italic',fill:c},s:{fontSize:s*.78,fontFamily:FF,fontStyle:'italic',fill:c,verticalAlign:'top',padding:[0,2,14,2]}});
const R=Math.PI/2;
const graphicEls=[
 ...[['A',2,31],['B',1004,31],['C',2,734],['D',1016,735],['E',4,1469],['F',1018,1469]].map(l=>txt(l[1],l[2],l[0],{size:68,weight:'bold',align:'left',fill:'#231F20'})),
 txt(495,40,'Quantitative changes in ChIP-seq peak signal',{size:38.5}),
 txt(114,208,'WT',{rot:R,size:38}), txt(111,407,'Perturbation',{rot:R,size:39}),
 txt(844,222,'Peak calling',{size:38,fill:'#808285'}),txt(841,255,'threshold',{size:38,fill:'#808285'}),
 txt(844,415,'Peak calling',{size:38,fill:'#808285'}),txt(841,448,'threshold',{size:38,fill:'#808285'}),
 txt(231,547,'Differential',{size:35}),txt(231,584,'increase',{size:35}),
 txt(449,547,'Differential',{size:35}),txt(449,584,'decrease',{size:35}),
 txt(639,547,'Not',{size:35}),txt(639,584,'differential',{size:35}),
 // B
 txt(1503,25,'Differential cohesin signal',{size:38.7}),txt(1503,65,'upon loss of WIZ (63.9%)',{size:38.7}),
 txt(1054,370,'log2 fold change in RAD21',{rot:R,size:34}),
 txt(1099,365,'{n|signal  (}{i|Wiz}{s|del}{n| / WT)}',{rot:R,size:34,rich:rich(34,C.ink)}),
 txt(1515,654,'log2 RAD21 signal',{size:35}),
 txt(1766,143,'21,390',{size:34.5,fill:C.orange}),txt(1763,185,'(96.8%)',{size:34.5,fill:C.orange}),txt(1784,541,'689',{size:34.5,fill:C.orange}),
 // C
 txt(520,748,'Differential cohesin signal',{size:38.7}),txt(520,787,'upon loss of WAPL (27.5%)',{size:38.7}),
 txt(77,1049,'log2 fold change in RAD21',{rot:R,size:34}),txt(113,1049,'signal  (WAPL-AID / WT)',{rot:R,size:34}),
 txt(524,1353,'log2 RAD21 signal',{size:35}),
 txt(793,854,'5,879',{size:34.5,fill:C.purple}),txt(797,887,'(78.2%)',{size:34.5,fill:C.purple}),txt(793,1255,'1,643',{size:34.5,fill:C.purple}),
 // D
 txt(1511,745,'Differential cohesin signal',{size:38.7}),txt(1511,785,'upon loss of G9a (12.0%)',{size:38.7}),
 txt(1051,1047,'log2 fold change in SMC3',{rot:R,size:34}),
 txt(1090,1032,'{n|signal  (}{i|G9a KO}{n| / WT)}',{rot:R,size:34,rich:rich(34,C.ink)}),
 txt(1512,1368,'log2 SMC3 signal',{size:35}),
 txt(1763,850,'2,027',{size:34.5,fill:C.green}),txt(1768,892,'(43.8%)',{size:34.5,fill:C.green}),txt(1783,1256,'2,596',{size:34.5,fill:C.green}),
 // E
 txt(514,1483,'Correlation of differential cohesin signal',{size:38.5}),txt(492,1522,'in two perturbation conditions',{size:38.5}),
 txt(667,1585,'Increase in both perturbations',{size:34.6,fill:C.tealT}),
 txt(23,1929,'log2 fold change cohesin',{rot:R,size:34}),txt(55,1908,'ChIP-seq signal (perturbation- WT)',{rot:R,size:34}),
 txt(165,1630,'{i|Wiz}{s|del}',{align:'left',size:35,rich:rich(35,C.orange)}),
 txt(163,1668,'WAPL-AID',{align:'left',size:35,fill:C.curve}),
 txt(511,2355,'{n|Differential sites in both }{i|Wiz}{s|del}{n|and WAPL-AID}',{size:35,rich:rich(35,'#222')}),
 // F
 txt(1555,1483,'Correlation of differential cohesin signal',{size:38.5}),txt(1533,1522,'in two perturbation conditions',{size:38.5}),
 txt(1820,1552,'Increase in both',{size:34.6,fill:C.tealT}),txt(1814,1582,'perturbations',{size:34.6,fill:C.tealT}),
 txt(1027,1960,'log2 fold change cohesin',{rot:R,size:34}),txt(1058,1938,'ChIP-seq signal (perturbation- WT)',{rot:R,size:34}),
 txt(1161,1625,'{i|Wiz}{s|del}',{align:'left',size:35,rich:rich(35,C.orange)}),
 txt(1161,1662,'{i|G9a KO}',{align:'left',size:35,rich:rich(35,C.curveG)}),
 txt(1591,2364,'{n|Differential sites in both }{i|Wiz}{s|del}{n|and }{i|G9a KO}',{size:35,rich:rich(35,'#222')})
];

const chart=echarts.init(document.getElementById('c'),null,{renderer:'canvas',width:1944,height:2381});
chart.setOption({animation:false,backgroundColor:'#fff',grid:grids,xAxis,yAxis,series,graphic:graphicEls});
</script></body></html>
